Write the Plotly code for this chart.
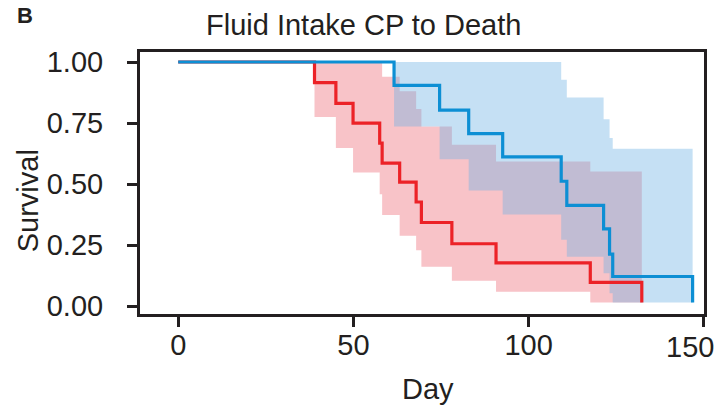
import plotly.graph_objects as go

# ---- data ----
blue_time = [0, 61.6, 74.6, 82.9, 92.6, 109.3, 110.9, 121.4, 123.1, 124.0, 146.8]
blue_surv = [1.0, 0.904, 0.803, 0.707, 0.612, 0.512, 0.413, 0.317, 0.214, 0.122, 0.016]
blue_band_time = [61.6, 74.6, 82.9, 92.6, 109.3, 110.9, 121.4, 123.1, 124.0]
blue_band_end = 146.8
blue_upper = [1.0, 1.0, 1.0, 1.0, 0.927, 0.855, 0.766, 0.689, 0.645]
blue_lower = [0.736, 0.602, 0.474, 0.376, 0.272, 0.203, 0.135, 0.053, 0.016]

red_time = [0, 38.9, 45.0, 49.9, 57.5, 58.2, 63.2, 67.9, 69.4, 78.1, 90.7, 117.6, 132.3]
red_surv = [1.0, 0.916, 0.831, 0.750, 0.668, 0.586, 0.508, 0.427, 0.343, 0.256, 0.178, 0.098, 0.016]
red_band_time = [38.9, 45.0, 49.9, 57.5, 58.2, 63.2, 67.9, 69.4, 78.1, 90.7, 117.6]
red_band_end = 132.3
red_upper = [1.0, 1.0, 1.0, 1.0, 0.94, 0.88, 0.808, 0.736, 0.661, 0.593, 0.552]
red_lower = [0.775, 0.648, 0.548, 0.459, 0.374, 0.289, 0.229, 0.162, 0.105, 0.06, 0.016]

x_ticks = [0, 50, 100, 150]
x_tick_text = ["0", "50", "100", "150"]
y_ticks = [0.0, 0.25, 0.5, 0.75, 1.0]
y_tick_text = ["0.00", "0.25", "0.50", "0.75", "1.00"]

BLUE = "#0d8fd4"
RED = "#ec2227"
BLUE_FILL = "rgba(110,178,228,0.4)"
RED_FILL = "rgba(232,55,72,0.3)"
INK = "#231f20"
FONT = "Liberation Sans, Arial, sans-serif"
FS = 29

fig = go.Figure()


def add_band(times, end, lower, upper, fill):
    xs = list(times) + [end]
    lo = list(lower) + [lower[-1]]
    up = list(upper) + [upper[-1]]
    fig.add_trace(go.Scatter(x=xs, y=lo, mode="lines", line=dict(width=0, shape="hv"),
                             hoverinfo="skip", showlegend=False))
    fig.add_trace(go.Scatter(x=xs, y=up, mode="lines", line=dict(width=0, shape="hv"),
                             fill="tonexty", fillcolor=fill, hoverinfo="skip", showlegend=False))


add_band(red_band_time, red_band_end, red_lower, red_upper, RED_FILL)
add_band(blue_band_time, blue_band_end, blue_lower, blue_upper, BLUE_FILL)

fig.add_trace(go.Scatter(x=red_time, y=red_surv, mode="lines",
                         line=dict(color=RED, width=3.2, shape="hv"), showlegend=False))
fig.add_trace(go.Scatter(x=blue_time, y=blue_surv, mode="lines",
                         line=dict(color=BLUE, width=3.2, shape="hv"), showlegend=False))

axis_common = dict(showgrid=False, zeroline=False, showline=True, mirror=True,
                   linecolor=INK, linewidth=3, ticks="outside", ticklen=10,
                   tickwidth=3, tickcolor=INK, automargin=False,
                   tickfont=dict(family=FONT, size=FS, color=INK))

# last x label is placed as an annotation so that it stays inside the page
fig.update_xaxes(range=[-10.9, 150.05], tickvals=x_ticks,
                 ticktext=x_tick_text[:-1] + [""], ticklabelstandoff=-7, **axis_common)
fig.update_yaxes(range=[-0.0315, 1.041], tickvals=y_ticks, ticktext=y_tick_text,
                 ticklabelstandoff=18, **axis_common)

fig.update_layout(
    width=718, height=415,
    margin=dict(l=140, r=14, t=52, b=101),
    paper_bgcolor="white", plot_bgcolor="white",
    showlegend=False,
    annotations=[
        dict(text="Fluid Intake CP to Death", xref="paper", yref="paper",
             x=0.397, y=1.103, xanchor="center", yanchor="middle", showarrow=False,
             font=dict(family=FONT, size=FS, color=INK)),
        dict(text="<b>B</b>", xref="paper", yref="paper",
             x=-0.222, y=1.141, xanchor="left", yanchor="middle", showarrow=False,
             font=dict(family=FONT, size=22, color=INK)),
        dict(text="Survival", xref="paper", yref="paper", textangle=-90,
             x=-0.1986, y=0.434, xanchor="center", yanchor="middle", showarrow=False,
             font=dict(family=FONT, size=FS, color=INK)),
        dict(text="Day", xref="paper", yref="paper",
             x=0.511, y=-0.285, xanchor="center", yanchor="middle", showarrow=False,
             font=dict(family=FONT, size=FS, color=INK)),
        dict(text=x_tick_text[-1], xref="x", yref="paper",
             x=x_ticks[-1], xshift=12, y=-0.125, xanchor="right", yanchor="middle",
             showarrow=False, font=dict(family=FONT, size=FS, color=INK)),
    ],
)

fig.write_html("out.html", config={"displayModeBar": False},
               post_script="document.body.style.margin='0';document.body.style.overflow='hidden';")
